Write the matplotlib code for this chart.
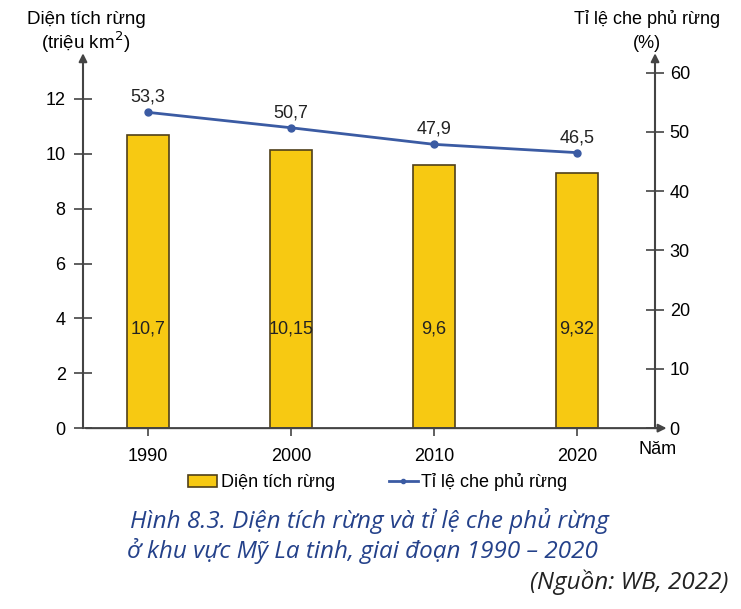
import matplotlib
matplotlib.use("Agg")
import matplotlib.pyplot as plt
from matplotlib.lines import Line2D
from matplotlib.patches import Patch

years = ['1990', '2000', '2010', '2020']
dien_tich = [10.7, 10.15, 9.6, 9.32]      # trieu km2
ti_le = [53.3, 50.7, 47.9, 46.5]          # %
dien_tich_lbl = ['10,7', '10,15', '9,6', '9,32']
ti_le_lbl = ['53,3', '50,7', '47,9', '46,5']

plt.rcParams['font.family'] = ['Liberation Sans', 'DejaVu Sans']
BAR = '#F7C912'
EDGE = '#4F3F1A'
LINE = '#3B5BA3'
AX = '#444444'

fig = plt.figure(figsize=(7.41, 6.09), dpi=100)
ax = fig.add_axes([0.112, 0.297, 0.772, 0.608])
ax2 = ax.twinx()

x = range(len(years))
ax.bar(x, dien_tich, width=0.29, color=BAR, edgecolor=EDGE, linewidth=1.2, zorder=2)
for i, s in enumerate(dien_tich_lbl):
    ax.text(i, 3.6, s, ha='center', va='center', fontsize=13, color='#222222')

ax2.plot(x, ti_le, color=LINE, lw=2, marker='o', ms=5, zorder=3)
for i, s in enumerate(ti_le_lbl):
    ax2.text(i, ti_le[i] + 1.1, s, ha='center', va='bottom', fontsize=13, color='#222222')

ax.set_xlim(-0.455, 3.545)
ax.set_ylim(0, 13.5)
ax2.set_ylim(0, 62.5)
ax.set_xticks(list(x))
ax.set_xticklabels(years, fontsize=13)
ax.set_yticks(range(0, 13, 2))
ax.tick_params(axis='y', labelsize=13, direction='inout', length=13, width=1.2, color=AX, pad=6)
ax.tick_params(axis='x', direction='out', length=6, width=1.2, color=AX, pad=8)
ax2.set_yticks(range(0, 61, 10))
ax2.tick_params(axis='y', labelsize=13, direction='inout', length=13, width=1.2, color=AX, pad=4)

for a in (ax, ax2):
    for sp in a.spines.values():
        sp.set_visible(False)
ax2.spines['left'].set_visible(True)
ax2.spines['left'].set_color(AX)
ax2.spines['left'].set_linewidth(1.5)
ax2.spines['right'].set_visible(True)
ax2.spines['right'].set_color(AX)
ax2.spines['right'].set_linewidth(1.5)

# x axis with arrow
ax.annotate('', xy=(1.025, 0), xytext=(0, 0), xycoords='axes fraction',
            arrowprops=dict(arrowstyle='-|>', color=AX, lw=1.5, mutation_scale=12))
# arrows on top of y axes
for xf in (0, 1):
    ax.annotate('', xy=(xf, 1.02), xytext=(xf, 0.98), xycoords='axes fraction',
                arrowprops=dict(arrowstyle='-|>', color=AX, lw=1.5, mutation_scale=12))

fig.text(0.116, 0.968, 'Diện tích rừng', ha='center', va='center', fontsize=13.5)
fig.text(0.116, 0.930, '(triệu km$^2$)', ha='center', va='center', fontsize=13.5)
fig.text(0.873, 0.968, 'Tỉ lệ che phủ rừng', ha='center', va='center', fontsize=13)
fig.text(0.873, 0.928, '(%)', ha='center', va='center', fontsize=13)
fig.text(0.887, 0.262, 'Năm', ha='center', va='center', fontsize=13)

handles = [Patch(facecolor=BAR, edgecolor=EDGE, linewidth=1.2),
           Line2D([0], [0], color=LINE, lw=2, marker='o', ms=3)]
fig.legend(handles, ['Diện tích rừng', 'Tỉ lệ che phủ rừng'], loc='center',
           bbox_to_anchor=(0.51, 0.208), ncol=2, frameon=False, fontsize=13,
           handlelength=1.6, handletextpad=0.2, columnspacing=3)

CAP = '#24418A'
cap_font = ['Liberation Sans Narrow', 'Open Sans', 'DejaVu Sans']
fig.text(0.175, 0.145, 'Hình 8.3. Diện tích rừng và tỉ lệ che phủ rừng', ha='left', va='center',
         fontsize=17.5, style='italic', color=CAP, family=cap_font)
fig.text(0.172, 0.095, 'ở khu vực Mỹ La tinh, giai đoạn 1990 – 2020', ha='left', va='center',
         fontsize=17.5, style='italic', color=CAP, family=cap_font)
fig.text(0.983, 0.044, '(Nguồn: WB, 2022)', ha='right', va='center',
         fontsize=17.5, style='italic', color='#222222', family=cap_font)

fig.savefig('out.png', dpi=100)
